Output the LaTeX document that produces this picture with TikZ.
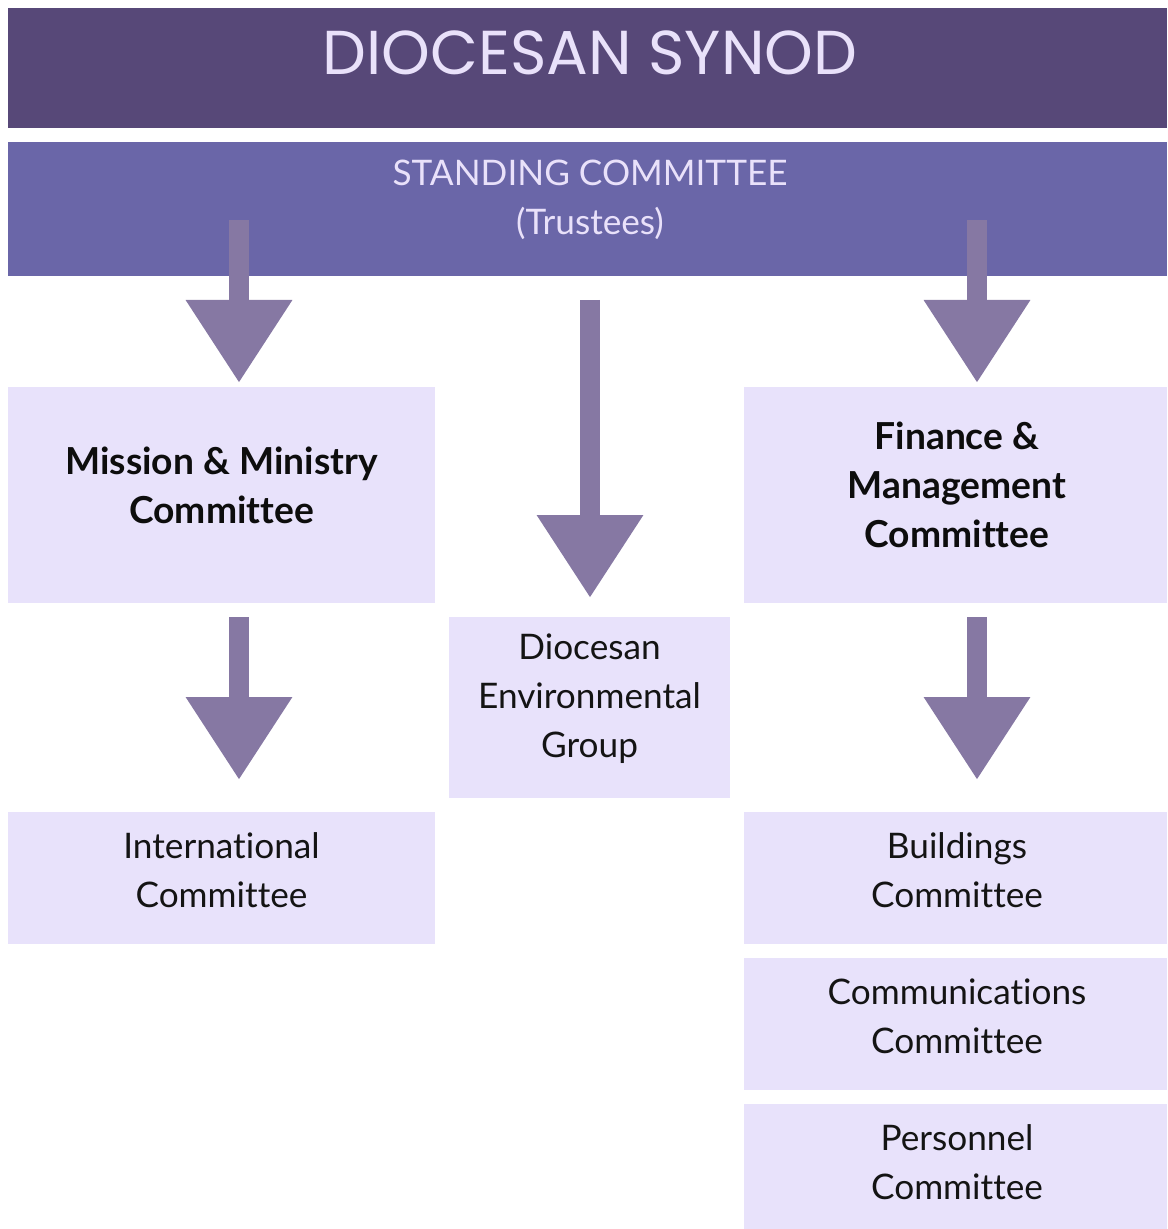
\documentclass[tikz,border=0pt]{standalone}
\usepackage{fontspec}
\setmainfont{Lato}[Ligatures=NoCommon]
\newfontfamily\titlefont{Poppins}
\usetikzlibrary{arrows.meta}
\definecolor{synodcol}{HTML}{574878}
\definecolor{standcol}{HTML}{6A66A8}
\definecolor{boxcol}{HTML}{E8E2FB}
\definecolor{arrowcol}{HTML}{8678A3}
\definecolor{headtext}{HTML}{E9E1FA}

\begin{document}
\begin{tikzpicture}[x=0.5pt, y=-0.5pt,
  every node/.style={inner sep=0pt, outer sep=0pt, align=center},
  band/.style={rectangle, minimum width=579.5pt},
  cbox/.style={rectangle, fill=boxcol},
  ctext/.style={font=\fontsize{17.6}{24.5}\selectfont, text=black!92},
  btext/.style={font=\bfseries\fontsize{18.6}{24.5}\selectfont, text=black!95},
  bigarrow/.style={draw=arrowcol, line width=10pt,
    -{Triangle[width=50.5pt, length=41.5pt]}}]
\useasboundingbox (0,0) rectangle (1167,1229);
% bands at the top
\node[band, fill=synodcol, minimum height=60pt] (synod) at (587.5,68) {};
\node[font=\titlefont\fontsize{31}{36}\selectfont, text=headtext] (synodtxt) at (590,53) {DIOCESAN SYNOD};
\node[band, fill=standcol, minimum height=67pt] (standing) at (587.5,209) {};
\node[ctext, text=headtext] (standtxt) at (590,200) {STANDING COMMITTEE\\(Trustees)};
% committees
\node[cbox, minimum width=213.5pt, minimum height=108pt] (mm) at (221.5,495) {};
\node[btext] (mmtxt) at (221.5,485) {Mission \& Ministry\\Committee};
\node[cbox, minimum width=211.5pt, minimum height=108pt] (fm) at (955.5,495) {};
\node[btext] (fmtxt) at (957,485) {Finance \&\\Management\\Committee};
\node[cbox, minimum width=140.5pt, minimum height=90.5pt] (env) at (589.5,707.5) {};
\node[ctext] (envtxt) at (589.5,699) {Diocesan\\Environmental\\Group};
\node[cbox, minimum width=213.5pt, minimum height=66pt] (intl) at (221.5,878) {};
\node[ctext] (intltxt) at (221.5,870) {International\\Committee};
\node[cbox, minimum width=211.5pt, minimum height=66pt] (build) at (955.5,878) {};
\node[ctext] (buildtxt) at (957,870) {Buildings\\Committee};
\node[cbox, minimum width=211.5pt, minimum height=66pt] (comms) at (955.5,1024) {};
\node[ctext] (commstxt) at (957,1016) {Communications\\Committee};
\node[cbox, minimum width=211.5pt, minimum height=66pt] (pers) at (955.5,1170) {};
\node[ctext] (perstxt) at (957,1162) {Personnel\\Committee};
% arrows
\coordinate (a1) at (239,220);
\coordinate (a2) at (590,300);
\coordinate (a3) at (977,220);
\draw[bigarrow, shorten >=2pt] (a1) -- (a1 |- mm.north);
\draw[bigarrow, shorten >=9.5pt] (a2) -- (a2 |- env.north);
\draw[bigarrow, shorten >=2pt] (a3) -- (a3 |- fm.north);
\draw[bigarrow, shorten <=7pt, shorten >=16pt] (a1 |- mm.south) -- (a1 |- intl.north);
\draw[bigarrow, shorten <=7pt, shorten >=16pt] (a3 |- fm.south) -- (a3 |- build.north);
\end{tikzpicture}
\end{document}
